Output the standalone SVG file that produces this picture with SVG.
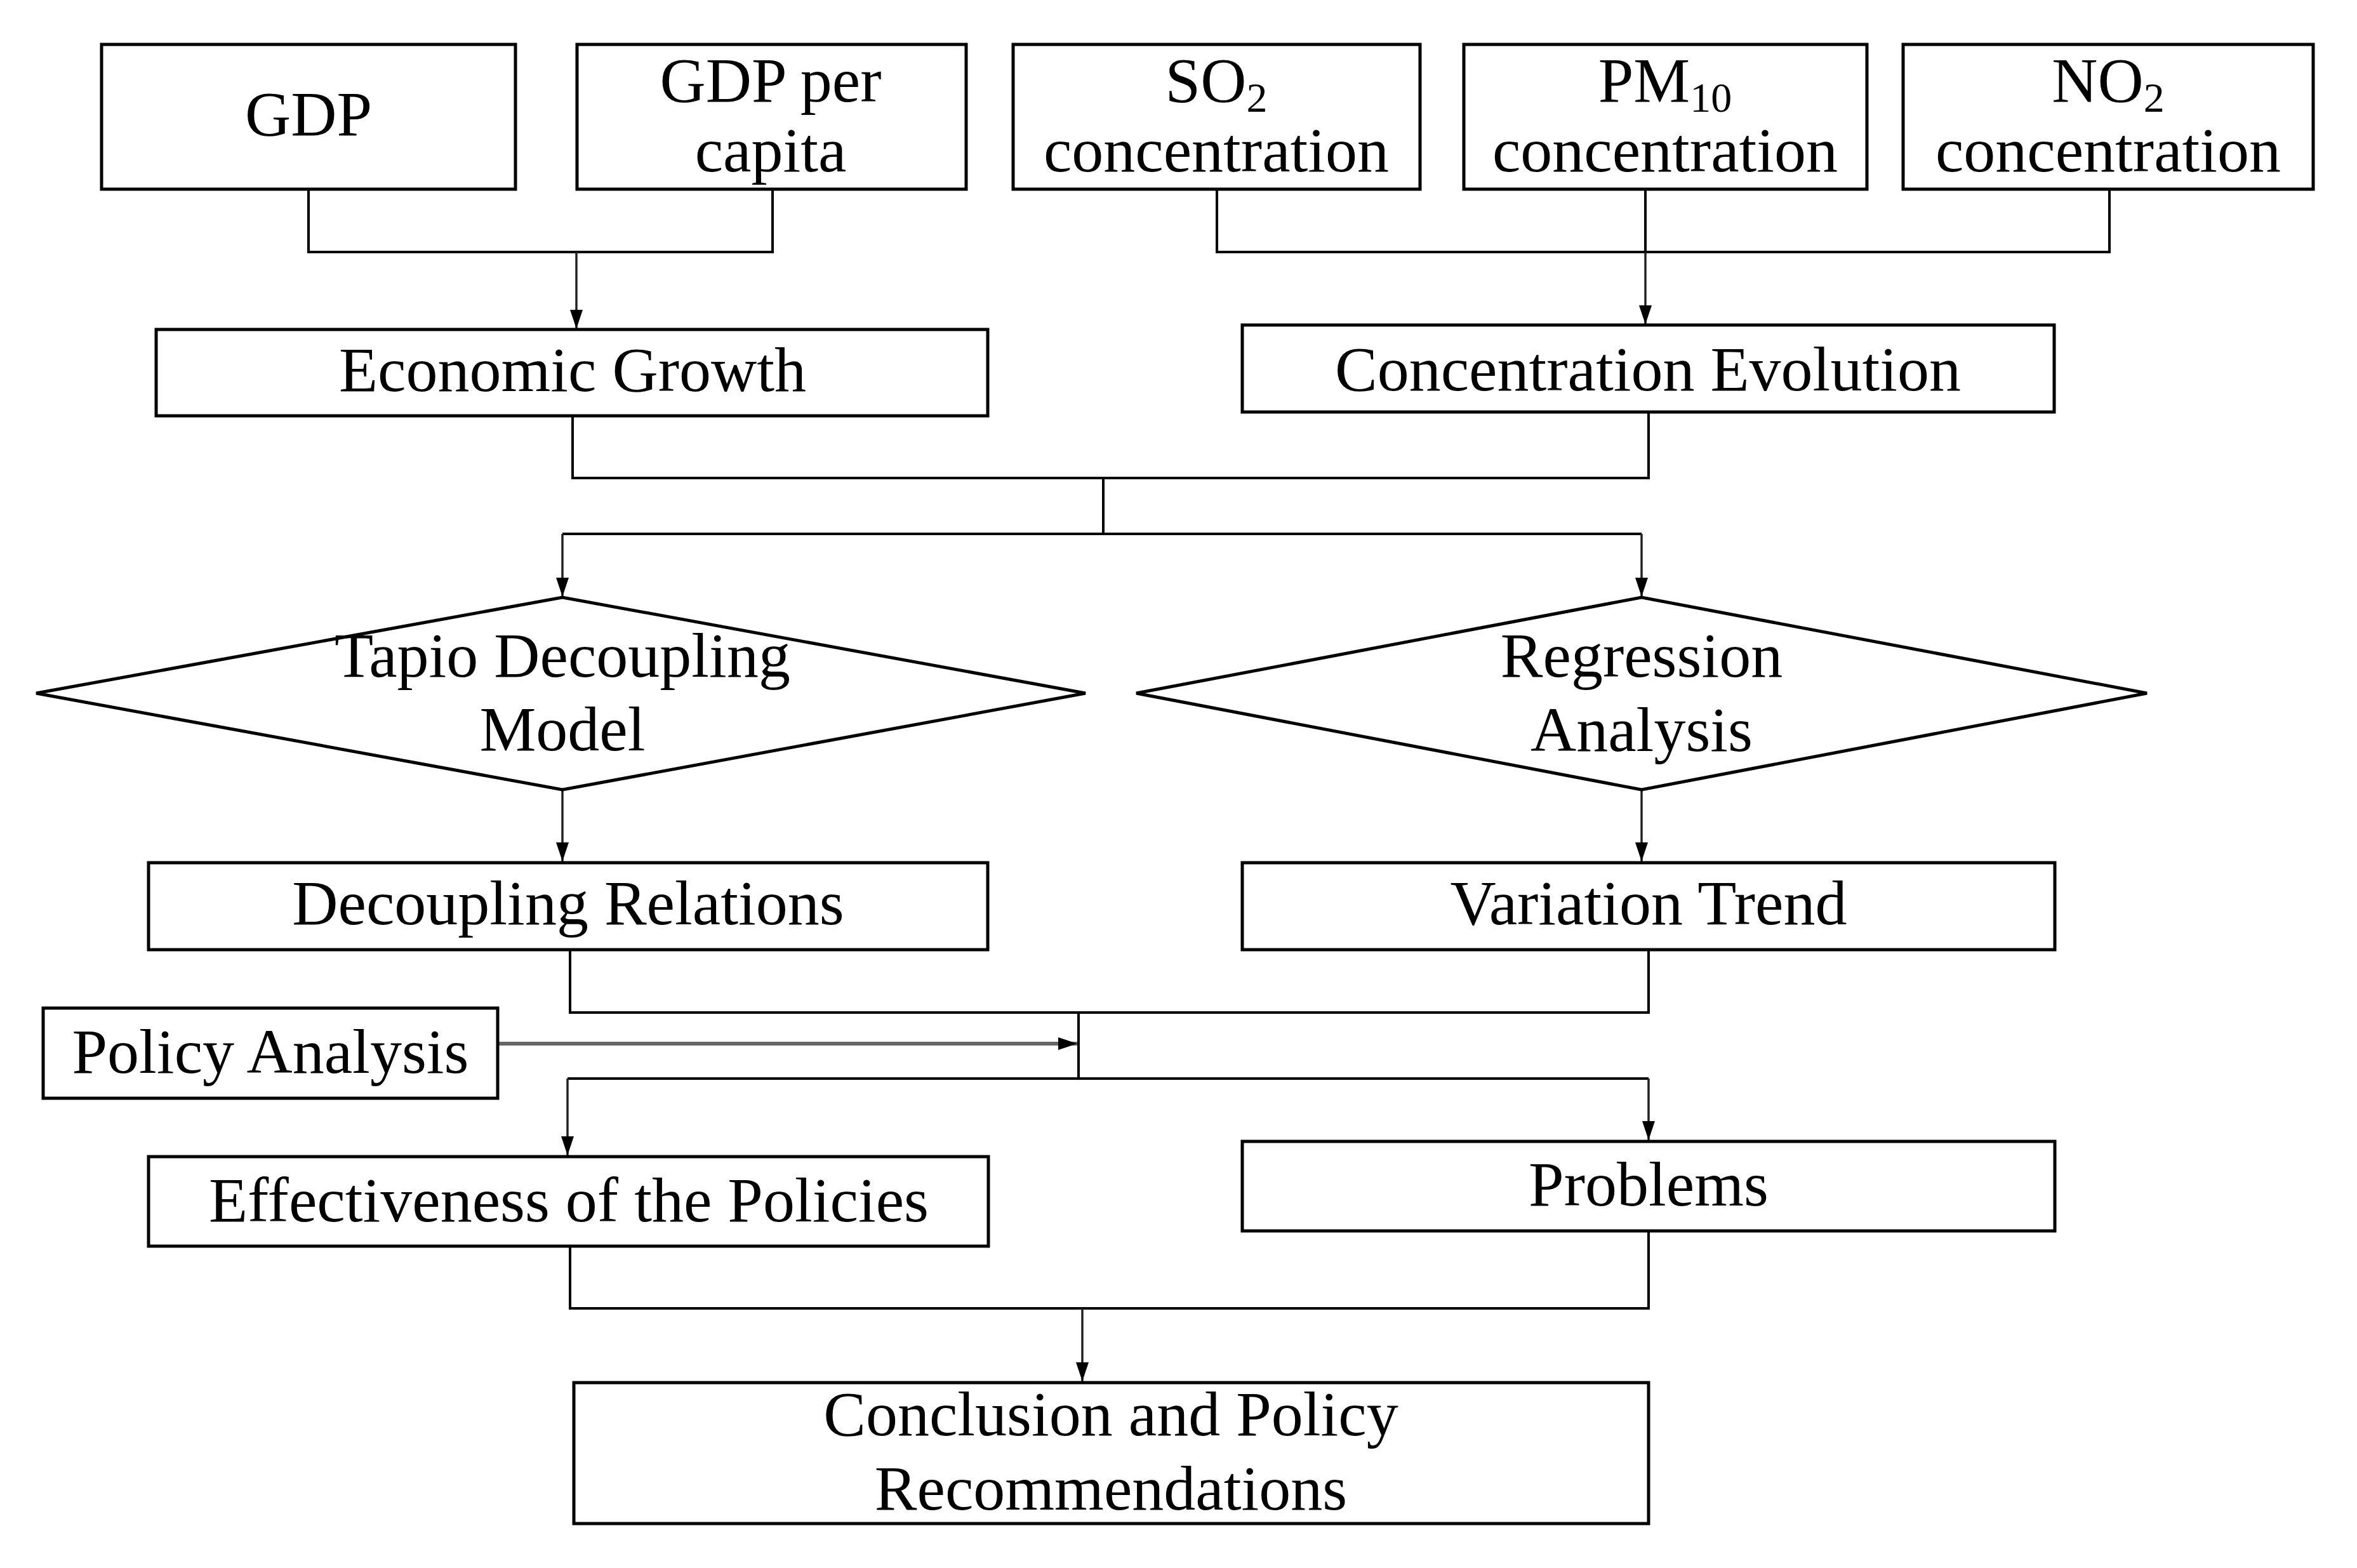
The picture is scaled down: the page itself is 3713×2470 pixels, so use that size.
<svg xmlns="http://www.w3.org/2000/svg" width="3713" height="2470" viewBox="0 0 3713 2470">
<defs>
<style>
.box{fill:#fff;stroke:#000;stroke-width:5}
.t{font-family:"Liberation Serif","Times New Roman",serif;font-size:100px;fill:#000;text-anchor:middle}
.sub{font-size:66px}
.ln{fill:none;stroke:#000;stroke-width:4}
.ar{fill:none;stroke:#222;stroke-width:3.5;marker-end:url(#ah)}
</style>
<marker id="ah" markerUnits="userSpaceOnUse" markerWidth="30" markerHeight="20" refX="30" refY="10" viewBox="0 0 30 20" orient="auto">
<path d="M0,0 L30,10 L0,20 Z" fill="#000"/>
</marker>
</defs>
<rect width="3713" height="2470" fill="#fff"/>
<g id="connectors">
<path class="ln" d="M486,298 V397 H1217 V298"/>
<path class="ar" d="M908,397 V518"/>
<path class="ln" d="M1917,298 V397 H3323 V298 M2592,298 V397"/>
<path class="ar" d="M2592,397 V511"/>
<path class="ln" d="M902,655 V753 H2597 V649 M1738,753 V841 M886,841 H2586"/>
<path class="ar" d="M886,841 V940"/>
<path class="ar" d="M2586,841 V940"/>
<path class="ar" d="M886,1244 V1357"/>
<path class="ar" d="M2586,1244 V1357"/>
<path class="ln" d="M898,1496 V1595 H2597 V1496 M1699,1595 V1699 M894,1699 H2597"/>
<path class="ar" d="M894,1699 V1820"/>
<path class="ar" d="M2597,1699 V1796"/>
<path class="ar" d="M784,1644 H1697" style="stroke:#666;stroke-width:6"/>
<path class="ln" d="M898,1963 V2061 H2597 V1939"/>
<path class="ar" d="M1705,2061 V2176"/>
</g>
<g id="gdp"><rect class="box" x="160" y="70" width="652" height="228"/><text class="t" x="486" y="213">GDP</text></g>
<g id="gdp-per-capita"><rect class="box" x="909" y="70" width="613" height="228"/><text class="t" x="1214" y="160">GDP per</text><text class="t" x="1214" y="270">capita</text></g>
<g id="so2"><rect class="box" x="1596" y="70" width="641" height="228"/><text class="t" x="1916" y="160">SO<tspan class="sub" dy="16">2</tspan></text><text class="t" x="1916" y="270">concentration</text></g>
<g id="pm10"><rect class="box" x="2306" y="70" width="635" height="228"/><text class="t" x="2623" y="160">PM<tspan class="sub" dy="16">10</tspan></text><text class="t" x="2623" y="270">concentration</text></g>
<g id="no2"><rect class="box" x="2998" y="70" width="646" height="228"/><text class="t" x="3321" y="160">NO<tspan class="sub" dy="16">2</tspan></text><text class="t" x="3321" y="270">concentration</text></g>
<g id="economic-growth"><rect class="box" x="246" y="519" width="1310" height="136"/><text class="t" x="902" y="616">Economic Growth</text></g>
<g id="concentration-evolution"><rect class="box" x="1957" y="512" width="1279" height="137"/><text class="t" x="2596" y="615">Concentration Evolution</text></g>
<g id="tapio"><polygon class="box" points="57,1092 886,941 1710,1092 886,1244"/><text class="t" x="886" y="1066">Tapio Decoupling</text><text class="t" x="886" y="1182">Model</text></g>
<g id="regression"><polygon class="box" points="1790,1092 2586,941 3382,1092 2586,1244"/><text class="t" x="2586" y="1066">Regression</text><text class="t" x="2586" y="1183">Analysis</text></g>
<g id="decoupling-relations"><rect class="box" x="234" y="1359" width="1322" height="137"/><text class="t" x="895" y="1456">Decoupling Relations</text></g>
<g id="variation-trend"><rect class="box" x="1957" y="1359" width="1280" height="137"/><text class="t" x="2597" y="1456">Variation Trend</text></g>
<g id="policy-analysis"><rect class="box" x="68" y="1588" width="716" height="142"/><text class="t" x="426" y="1690">Policy Analysis</text></g>
<g id="effectiveness"><rect class="box" x="234" y="1822" width="1323" height="141"/><text class="t" x="896" y="1924">Effectiveness of the Policies</text></g>
<g id="problems"><rect class="box" x="1957" y="1798" width="1280" height="141"/><text class="t" x="2597" y="1899">Problems</text></g>
<g id="conclusion"><rect class="box" x="904" y="2178" width="1693" height="222"/><text class="t" x="1750" y="2261">Conclusion and Policy</text><text class="t" x="1750" y="2378">Recommendations</text></g>
</svg>
